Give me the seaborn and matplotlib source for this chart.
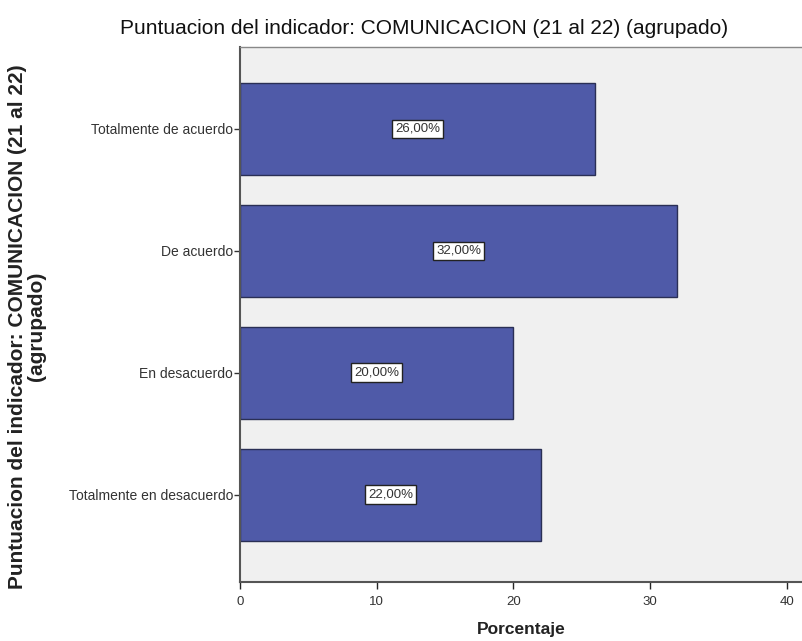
import matplotlib
matplotlib.use("Agg")
import matplotlib.pyplot as plt
import seaborn as sns
import pandas as pd

categories = ["Totalmente de acuerdo", "De acuerdo", "En desacuerdo", "Totalmente en desacuerdo"]
percentages = [26.0, 32.0, 20.0, 22.0]
xticks = [0, 10, 20, 30, 40]

df = pd.DataFrame({"cat": categories, "pct": percentages})

sns.set_style("white")
plt.rcParams["font.family"] = ["Liberation Sans", "DejaVu Sans"]

fig = plt.figure(figsize=(8.03, 6.41), dpi=100)
ax = fig.add_axes([0.2989, 0.092, 0.7011, 0.8347])
ax.set_facecolor("#f0f0f0")

sns.barplot(data=df, x="pct", y="cat", order=categories, orient="h",
            color="#4f5aa8", saturation=1, width=0.754,
            edgecolor="#2a2f55", linewidth=1.0, ax=ax)

for i, v in enumerate(percentages):
    ax.text(v / 2, i, f"{v:.2f}%".replace(".", ","), ha="center", va="center",
            fontsize=9.5, color="#333333",
            bbox=dict(boxstyle="square,pad=0.25", fc="white", ec="#222222", lw=1.0))

ax.set_xlim(0, 41.2)
ax.set_ylim(3.717, -0.672)
ax.set_xticks(xticks)
ax.set_xticklabels([str(t) for t in xticks], fontsize=9.5, color="#333333")
ax.tick_params(axis="y", labelsize=10, colors="#333333", length=4, width=1, direction="out", left=True, pad=1)
ax.tick_params(axis="x", length=5, width=1, direction="out", bottom=True, pad=5)

for s in ["left", "bottom"]:
    ax.spines[s].set_color("#555555")
    ax.spines[s].set_linewidth(1.5)
ax.spines["top"].set_color("#888888")
ax.spines["top"].set_linewidth(1.0)
ax.spines["right"].set_visible(False)

ax.set_ylabel("")
ax.set_xlabel("Porcentaje", fontsize=12.5, fontweight="bold", color="#222222", labelpad=10)
fig.text(0.034, 0.491, "Puntuacion del indicador: COMUNICACION (21 al 22)\n(agrupado)",
         rotation=90, ha="center", va="center", multialignment="center",
         fontsize=15, fontweight="bold", color="#222222", linespacing=1.0)
fig.text(0.528, 0.955, "Puntuacion del indicador: COMUNICACION (21 al 22) (agrupado)",
         ha="center", va="center", fontsize=15, color="#111111")

fig.savefig("out.png", dpi=100, facecolor="white")
